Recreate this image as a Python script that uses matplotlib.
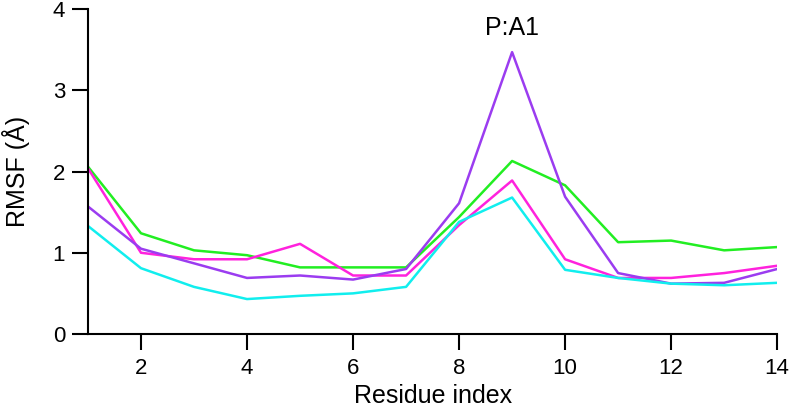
import numpy as np
from matplotlib import pyplot as plt

plt.rcParams['font.family'] = ['Liberation Sans', 'DejaVu Sans']

# residue index and RMSF values for four runs
residues = np.arange(1, 15)
rmsf_green = [2.06, 1.24, 1.03, 0.97, 0.82, 0.82, 0.82, 1.44, 2.13, 1.83, 1.13, 1.15, 1.03, 1.07]
rmsf_magenta = [2.04, 1.00, 0.92, 0.92, 1.11, 0.72, 0.72, 1.34, 1.89, 0.92, 0.69, 0.69, 0.75, 0.84]
rmsf_purple = [1.57, 1.05, 0.87, 0.69, 0.72, 0.67, 0.80, 1.61, 3.47, 1.69, 0.75, 0.62, 0.63, 0.80]
rmsf_cyan = [1.33, 0.81, 0.58, 0.43, 0.47, 0.50, 0.58, 1.38, 1.68, 0.79, 0.69, 0.62, 0.60, 0.63]

fig = plt.figure(figsize=(7.89, 4.13), dpi=100)
ax = fig.add_axes([0.1115, 0.1913, 0.8735, 0.7867])

lw = 1.8
ax.plot(residues, rmsf_green, c='#22ee22', lw=lw)
ax.plot(residues, rmsf_magenta, c='#ff22dd', lw=lw)
ax.plot(residues, rmsf_purple, c='#9b3cf0', lw=lw)
ax.plot(residues, rmsf_cyan, c='#11eeee', lw=lw)

# label for the peak
ax.text(9, 3.77, 'P:A1', ha='center', va='center', fontsize=18)

ax.set_xlim(1, 14)
ax.set_ylim(0, 4)
ax.set_xticks(range(2, 15, 2))
ax.set_yticks(range(0, 5))
for s in ['top', 'right']:
    ax.spines[s].set_visible(False)
for s in ['left', 'bottom']:
    ax.spines[s].set_linewidth(1.5)
ax.tick_params(direction='out', length=11.5, width=1.5, labelsize=16)
ax.tick_params(axis='x', pad=6)
ax.tick_params(axis='y', pad=5)
ax.set_xlabel('Residue index', fontsize=18)
ax.set_ylabel('RMSF (Å)', fontsize=18)
ax.xaxis.label.set_va('center')
ax.yaxis.label.set_va('center')
ax.xaxis.set_label_coords(0.5, -0.19)
ax.yaxis.set_label_coords(-0.104, 0.5)

fig.savefig('out.png', dpi=100)
